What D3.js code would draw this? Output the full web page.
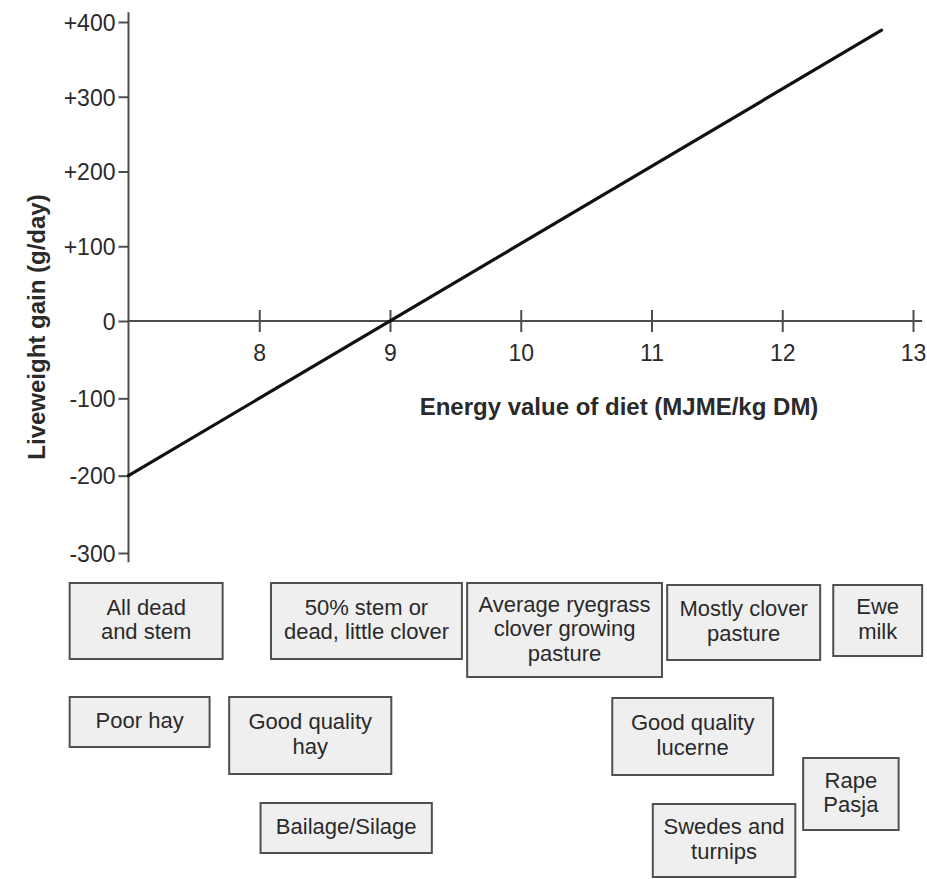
<!DOCTYPE html>
<html>
<head>
<meta charset="utf-8">
<script src="https://cdn.jsdelivr.net/npm/d3@7"></script>
<style>
  html, body { margin: 0; padding: 0; background: #fff; }
  svg { display: block; font-family: "Liberation Sans", Arial, Helvetica, sans-serif; }
</style>
</head>
<body>
<svg id="chart" width="927" height="879"></svg>
<script>
// ---------------- DATA ----------------
const yTickValues = [-300, -200, -100, 0, 100, 200, 300, 400];
const xTickValues = [8, 9, 10, 11, 12, 13];
const yTitle = "Liveweight gain (g/day)";
const xTitle = "Energy value of diet (MJME/kg DM)";

// regression line: energy (MJME/kg DM) vs liveweight gain (g/day)
const lineEnergy = [7, 12.76];
const lineGain = [-200, 389];

// feed categories and the energy range each spans (MJME/kg DM)
const feedLabels = [
  ["All dead", "and stem"],
  ["50% stem or", "dead, little clover"],
  ["Average ryegrass", "clover growing", "pasture"],
  ["Mostly clover", "pasture"],
  ["Ewe", "milk"],
  ["Poor hay"],
  ["Good quality", "hay"],
  ["Bailage/Silage"],
  ["Good quality", "lucerne"],
  ["Rape", "Pasja"],
  ["Swedes and", "turnips"]
];
const feedEnergyLow  = [6.55, 8.09, 9.59, 11.12, 12.39, 6.55, 7.77, 8.01, 10.70, 12.16, 11.01];
const feedEnergyHigh = [7.72, 9.55, 11.08, 12.29, 13.07, 7.62, 9.01, 9.32, 11.93, 12.89, 12.10];

// ---------------- LAYOUT (pixels, not data) ----------------
const boxTop    = [583, 583, 583, 585, 585, 697, 697, 803, 698, 758, 804];
const boxHeight = [76, 76, 94, 75, 71, 50, 77, 50, 77, 72, 73];
const lineStep = 24.5;

const svg = d3.select("#chart");
const axisColor = "#4d4d4d";
const textColor = "#2a2a2a";

const x = d3.scaleLinear().domain([7, 13]).range([128.5, 913]);
const y = d3.scaleLinear().domain([-300, 0, 400]).range([553, 321, 22]);

// y axis line (extends slightly beyond end ticks)
svg.append("line")
  .attr("x1", x(7)).attr("x2", x(7))
  .attr("y1", y(413)).attr("y2", y(-312))
  .attr("stroke", axisColor).attr("stroke-width", 2);

// x axis line at zero
svg.append("line")
  .attr("x1", x(7)).attr("x2", x(13.07))
  .attr("y1", y(0)).attr("y2", y(0))
  .attr("stroke", axisColor).attr("stroke-width", 2);

// y axis ticks & labels
const yAxis = d3.axisLeft(y)
  .tickValues(yTickValues)
  .tickSize(10)
  .tickPadding(3)
  .tickFormat(d => d > 0 ? "+" + d : String(d));
const gy = svg.append("g").attr("transform", `translate(${x(7)},0)`).call(yAxis);
gy.select(".domain").remove();
gy.selectAll(".tick line").attr("stroke", axisColor).attr("stroke-width", 2);
gy.selectAll(".tick text")
  .attr("fill", textColor)
  .style("font-size", "23px")
  .attr("dy", "0.36em");

// x axis ticks & labels (ticks cross the axis)
const xAxis = d3.axisBottom(x)
  .tickValues(xTickValues)
  .tickSize(11)
  .tickPadding(13)
  .tickFormat(d3.format("d"));
const gx = svg.append("g").attr("transform", `translate(0,${y(0)})`).call(xAxis);
gx.select(".domain").remove();
gx.selectAll(".tick line").attr("y1", -11).attr("stroke", axisColor).attr("stroke-width", 2);
gx.selectAll(".tick text")
  .attr("fill", textColor)
  .style("font-size", "23px");

// axis titles
svg.append("text")
  .attr("x", 619).attr("y", 415)
  .attr("text-anchor", "middle")
  .attr("fill", textColor)
  .style("font-size", "24px").style("font-weight", "bold")
  .text(xTitle);

svg.append("text")
  .attr("transform", "translate(45,327) rotate(-90)")
  .attr("text-anchor", "middle")
  .attr("fill", textColor)
  .style("font-size", "24px").style("font-weight", "bold")
  .text(yTitle);

// regression line
const linePts = lineEnergy.map((e, i) => [e, lineGain[i]]);
svg.append("path")
  .datum(linePts)
  .attr("d", d3.line().x(d => x(d[0])).y(d => y(d[1])))
  .attr("fill", "none")
  .attr("stroke", "#111")
  .attr("stroke-width", 3.2)
  .attr("stroke-linecap", "round");

// feed boxes
const feeds = feedLabels.map((lines, i) => ({
  lines, lo: feedEnergyLow[i], hi: feedEnergyHigh[i], top: boxTop[i], h: boxHeight[i]
}));

const g = svg.append("g").selectAll("g").data(feeds).join("g");
g.append("rect")
  .attr("x", d => x(d.lo))
  .attr("y", d => d.top)
  .attr("width", d => x(d.hi) - x(d.lo))
  .attr("height", d => d.h)
  .attr("fill", "#efefef")
  .attr("stroke", "#505050")
  .attr("stroke-width", 2);

g.each(function(d) {
  const cx = (x(d.lo) + x(d.hi)) / 2;
  const cy = d.top + d.h / 2;
  const n = d.lines.length;
  d.lines.forEach((ln, i) => {
    d3.select(this).append("text")
      .attr("text-anchor", "middle")
      .attr("fill", textColor)
      .style("font-size", "22px")
      .attr("x", cx)
      .attr("y", cy + (i - (n - 1) / 2) * lineStep + 6)
      .text(ln);
  });
});
</script>
</body>
</html>
